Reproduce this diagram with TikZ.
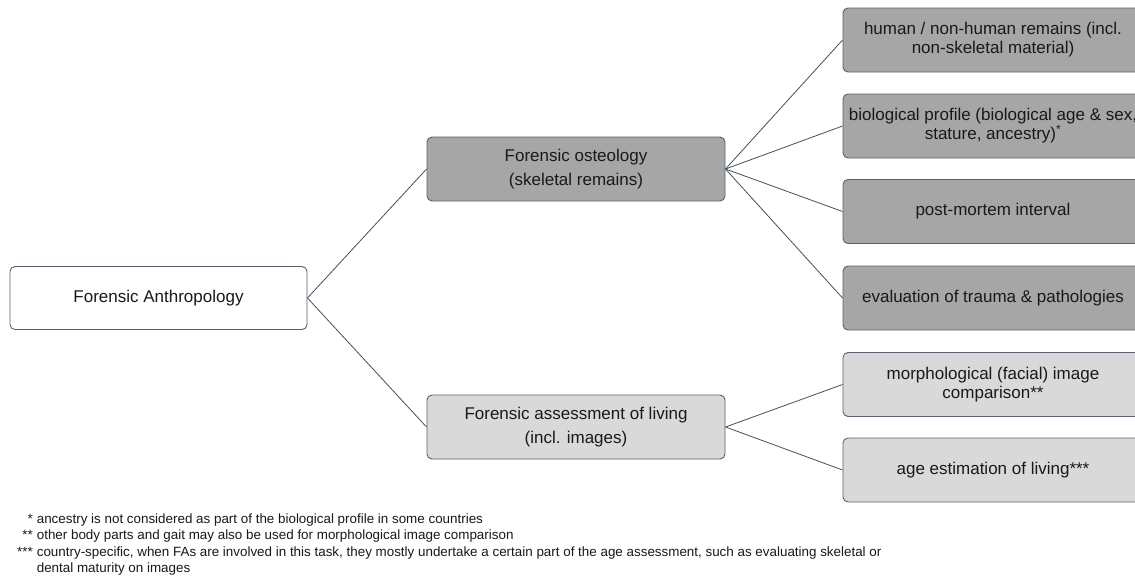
\documentclass[tikz,border=0pt]{standalone}
\usepackage{fontspec}
\setmainfont{Liberation Sans}
\definecolor{bordc}{RGB}{88,98,110}
\definecolor{linec}{RGB}{70,80,92}
\definecolor{darkfill}{RGB}{166,166,166}
\definecolor{lightfill}{RGB}{217,217,217}
\definecolor{txtc}{RGB}{25,25,25}
\begin{document}
\begin{tikzpicture}[x=1pt,y=-1pt,
  box/.style={draw=bordc, line width=0.9pt, rounded corners=5pt, align=center,
    inner sep=0pt, text=txtc, font=\fontsize{17}{19}\selectfont},
  midbox/.style={box, font=\fontsize{17}{24.5}\selectfont, minimum width=298pt, minimum height=64pt},
  rightbox/.style={box, minimum width=300pt, minimum height=64pt},
  dark/.style={fill=darkfill},
  light/.style={fill=lightfill},
  link/.style={draw=linec, line width=0.8pt}]
\useasboundingbox (0,0) rectangle (1135,579);
\clip (0,0) rectangle (1135,579);
\fill[white] (0,0) rectangle (1135,579);

\node[box, fill=white, minimum width=297pt, minimum height=63pt] (root) at (158.5,298) {Forensic Anthropology};
\node[midbox, dark] (ost) at (576,169) {Forensic osteology\\(skeletal remains)};
\node[midbox, light] (liv) at (576,427) {Forensic assessment of living\\(incl. images)};

\node[rightbox, dark] (r1) at (993,40) {human / non-human remains (incl.\\non-skeletal material)};
\node[rightbox, dark] (r2) at (993,126) {biological profile (biological age \& sex,\\stature, ancestry)\textsuperscript{*}};
\node[rightbox, dark] (r3) at (993,211.5) {post-mortem interval};
\node[rightbox, dark] (r4) at (993,298) {evaluation of trauma \& pathologies};
\node[rightbox, light] (r5) at (993,384.5) {morphological (facial) image\\comparison**};
\node[rightbox, light] (r6) at (993,470) {age estimation of living***};

\draw[link] (root.east) -- (ost.west);
\draw[link] (root.east) -- (liv.west);
\foreach \n in {r1,r2,r3,r4} \draw[link] (ost.east) -- (\n.west);
\foreach \n in {r5,r6} \draw[link] (liv.east) -- (\n.west);

\node[anchor=north west, inner sep=0pt, text=txtc, font=\fontsize{13.4}{16.3}\selectfont] (notes) at (17,512) {%
\begin{tabular}{@{}r@{\hspace{4pt}}l@{}}
{*} & ancestry is not considered as part of the biological profile in some countries\\
{**} & other body parts and gait may also be used for morphological image comparison\\
{***} & country-specific, when FAs are involved in this task, they mostly undertake a certain part of the age assessment, such as evaluating skeletal or\\
{} & dental maturity on images
\end{tabular}};
\end{tikzpicture}
\end{document}
